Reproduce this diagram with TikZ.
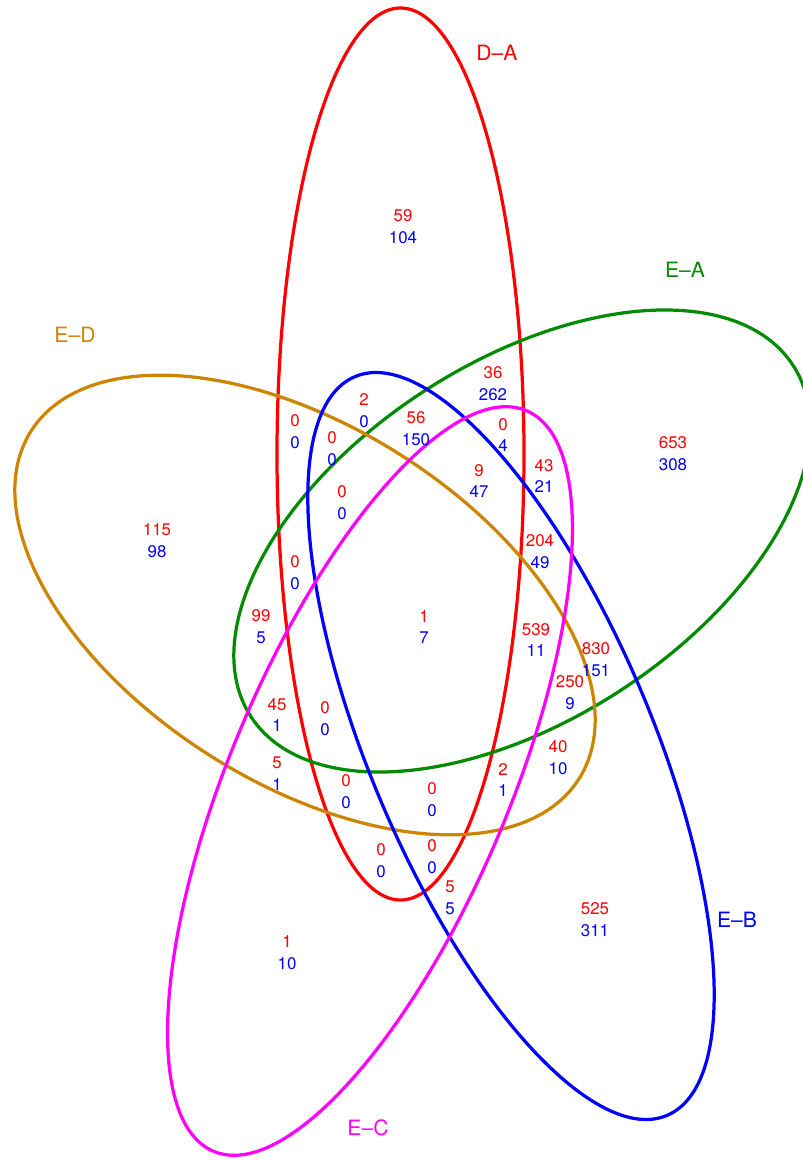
\documentclass[tikz,border=0pt]{standalone}
\usepackage{fontspec}
\setmainfont{TeX Gyre Heros}
\usepackage{xcolor}
\definecolor{cDA}{RGB}{255,0,0}
\definecolor{cEA}{RGB}{0,139,0}
\definecolor{cED}{RGB}{205,133,0}
\definecolor{cEB}{RGB}{0,0,255}
\definecolor{cEC}{RGB}{255,0,255}
\newcommand{\cnts}[2]{\textcolor{red}{#1}\\\textcolor{blue}{#2}}

\begin{document}
\begin{tikzpicture}[x=0.025cm, y=-0.025cm,
  set/.style={line width=2.3pt},
  setlbl/.style={font=\fontsize{15}{18}\selectfont, inner sep=0pt},
  cnt/.style={align=center, font=\fontsize{12}{15.6}\selectfont, inner sep=0pt},
]
\useasboundingbox (0,0) rectangle (803,1160);

% ─── The five sets (ellipses) ───
\draw[set, cDA] (400.5,454) ellipse [x radius=123.5, y radius=446];
\draw[set, cEA, rotate around={32.9:(522,541)}] (522,541) ellipse [x radius=323, y radius=179];
\draw[set, cED, rotate around={-32.4:(305,605)}] (305,605) ellipse [x radius=324.5, y radius=178];
\draw[set, cEB, rotate around={-67.1:(511,746)}] (511,746) ellipse [x radius=401, y radius=141.3];
\draw[set, cEC, rotate around={67.1:(370,781)}] (370,781) ellipse [x radius=402, y radius=139.5];

% ─── Set labels ───
\node[setlbl, text=cDA] (lDA) at (497,53)   {D--A};
\node[setlbl, text=cEA] (lEA) at (685,270)  {E--A};
\node[setlbl, text=cED] (lED) at (75,335)   {E--D};
\node[setlbl, text=cEB] (lEB) at (737,920)  {E--B};
\node[setlbl, text=cEC] (lEC) at (368,1128) {E--C};

% ─── Region counts: single sets ───
\node[cnt] (c01) at (403,227) {\cnts{59}{104}};
\node[cnt] (c02) at (673,454) {\cnts{653}{308}};
\node[cnt] (c03) at (157,541) {\cnts{115}{98}};
\node[cnt] (c04) at (595,920) {\cnts{525}{311}};
\node[cnt] (c05) at (287,953) {\cnts{1}{10}};

% ─── Region counts: upper part ───
\node[cnt] (c06) at (493,384) {\cnts{36}{262}};
\node[cnt] (c07) at (295,432) {\cnts{0}{0}};
\node[cnt] (c08) at (364,411) {\cnts{2}{0}};
\node[cnt] (c09) at (416,429) {\cnts{56}{150}};
\node[cnt] (c10) at (503,435) {\cnts{0}{4}};
\node[cnt] (c11) at (332,449) {\cnts{0}{0}};
\node[cnt] (c12) at (479,481) {\cnts{9}{47}};
\node[cnt] (c13) at (544,476) {\cnts{43}{21}};
\node[cnt] (c14) at (342,503) {\cnts{0}{0}};
\node[cnt] (c15) at (540,552) {\cnts{204}{49}};
\node[cnt] (c16) at (295,573) {\cnts{0}{0}};

% ─── Region counts: middle ───
\node[cnt] (c17) at (261,627) {\cnts{99}{5}};
\node[cnt] (c18) at (424,627) {\cnts{1}{7}};
\node[cnt] (c19) at (536,640) {\cnts{539}{11}};
\node[cnt] (c20) at (596,660) {\cnts{830}{151}};
\node[cnt] (c21) at (570,693) {\cnts{250}{9}};
\node[cnt] (c22) at (277,715) {\cnts{45}{1}};
\node[cnt] (c23) at (325,719) {\cnts{0}{0}};

% ─── Region counts: lower part ───
\node[cnt] (c24) at (558,758) {\cnts{40}{10}};
\node[cnt] (c25) at (277,774) {\cnts{5}{1}};
\node[cnt] (c26) at (503,780) {\cnts{2}{1}};
\node[cnt] (c27) at (346,792) {\cnts{0}{0}};
\node[cnt] (c28) at (432,800) {\cnts{0}{0}};
\node[cnt] (c29) at (381,861) {\cnts{0}{0}};
\node[cnt] (c30) at (432,857) {\cnts{0}{0}};
\node[cnt] (c31) at (450,898) {\cnts{5}{5}};

\end{tikzpicture}
\end{document}
